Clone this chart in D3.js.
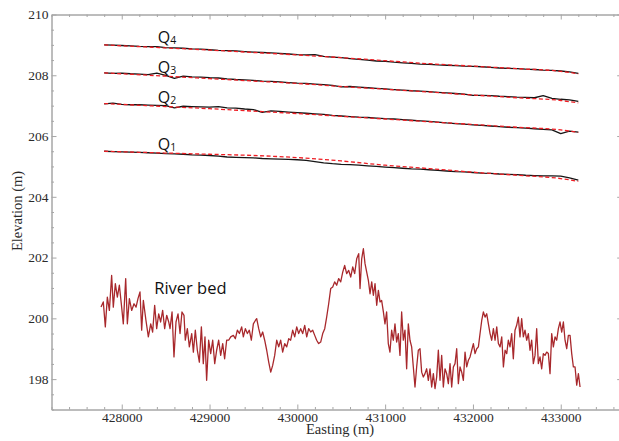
<!DOCTYPE html>
<html>
<head>
<meta charset="utf-8">
<script src="https://d3js.org/d3.v7.min.js"></script>
<style>
  body { margin: 0; background: #fff; }
  .axis path, .axis line { stroke: #a6a6a6; stroke-width: 1; }
  .axis text { fill: #2b2b2b; font-family: "Liberation Serif", "Times New Roman", "DejaVu Serif", serif; font-size: 13.5px; }
  .title { fill: #2b2b2b; font-family: "Liberation Serif", "Times New Roman", "DejaVu Serif", serif; font-size: 14.5px; }
  .note { fill: #111; font-family: "Open Sans", "Noto Sans", Lato, sans-serif; }
</style>
</head>
<body>
<div id="chart"></div>
<script>
// tick labels
var xTicks = [428000, 429000, 430000, 431000, 432000, 433000];
var yTicks = [198, 200, 202, 204, 206, 208, 210];

// terrace profiles (black = measured, red dashed = fit)
var qEast = [
  427800, 427900, 428000, 428100, 428200, 428300, 428400, 428500, 428600, 428700,
  428800, 428900, 429000, 429100, 429200, 429300, 429400, 429500, 429600, 429700,
  429800, 429900, 430000, 430100, 430200, 430300, 430400, 430500, 430600, 430700,
  430800, 430900, 431000, 431100, 431200, 431300, 431400, 431500, 431600, 431700,
  431800, 431900, 432000, 432100, 432200, 432300, 432400, 432500, 432600, 432700,
  432800, 432900, 433000, 433100, 433200];

var q4 = [
  209.00, 208.99, 208.98, 208.97, 208.95, 208.94, 208.94, 208.91, 208.90, 208.89,
  208.87, 208.86, 208.84, 208.82, 208.81, 208.80, 208.78, 208.76, 208.75, 208.74,
  208.72, 208.70, 208.68, 208.67, 208.68, 208.62, 208.60, 208.58, 208.55, 208.52,
  208.50, 208.47, 208.46, 208.43, 208.41, 208.39, 208.37, 208.36, 208.34, 208.33,
  208.32, 208.30, 208.29, 208.28, 208.26, 208.24, 208.23, 208.22, 208.20, 208.19,
  208.17, 208.16, 208.14, 208.11, 208.06];

var q3 = [
  208.08, 208.06, 208.07, 208.05, 208.04, 208.02, 208.07, 208.00, 207.90, 207.97,
  207.95, 207.94, 207.92, 207.91, 207.88, 207.86, 207.85, 207.83, 207.81, 207.80,
  207.78, 207.76, 207.74, 207.73, 207.71, 207.69, 207.67, 207.62, 207.63, 207.61,
  207.59, 207.57, 207.55, 207.53, 207.51, 207.49, 207.48, 207.46, 207.44, 207.42,
  207.40, 207.38, 207.34, 207.34, 207.33, 207.31, 207.30, 207.28, 207.27, 207.26,
  207.33, 207.24, 207.21, 207.19, 207.14];

var q2 = [
  207.06, 207.08, 207.04, 207.03, 207.03, 207.02, 207.01, 207.00, 206.93, 206.98,
  206.97, 206.96, 206.95, 206.97, 206.93, 206.92, 206.89, 206.87, 206.78, 206.83,
  206.81, 206.79, 206.77, 206.75, 206.73, 206.71, 206.68, 206.66, 206.64, 206.62,
  206.61, 206.59, 206.57, 206.56, 206.54, 206.52, 206.50, 206.48, 206.46, 206.43,
  206.41, 206.39, 206.37, 206.35, 206.33, 206.31, 206.29, 206.28, 206.26, 206.24,
  206.22, 206.20, 206.08, 206.16, 206.13];

var q1 = [
  205.50, 205.49, 205.48, 205.47, 205.46, 205.45, 205.44, 205.42, 205.41, 205.40,
  205.38, 205.37, 205.36, 205.34, 205.31, 205.30, 205.29, 205.28, 205.26, 205.25,
  205.24, 205.23, 205.22, 205.20, 205.16, 205.12, 205.09, 205.07, 205.06, 205.04,
  205.02, 205.00, 204.98, 204.96, 204.94, 204.92, 204.91, 204.89, 204.87, 204.85,
  204.83, 204.82, 204.80, 204.78, 204.77, 204.75, 204.74, 204.73, 204.71, 204.70,
  204.69, 204.69, 204.68, 204.62, 204.55];

var fitEast = [427800, 428500, 429000, 429500, 430000, 430500, 431000, 431500, 432000, 432500, 433000, 433200];
var q4Fit = [209.00, 208.90, 208.83, 208.75, 208.67, 208.58, 208.48, 208.38, 208.30, 208.22, 208.13, 208.05];
var q3Fit = [208.08, 207.97, 207.89, 207.81, 207.73, 207.63, 207.54, 207.45, 207.35, 207.26, 207.17, 207.09];
var q2Fit = [207.07, 206.97, 206.90, 206.82, 206.74, 206.65, 206.56, 206.47, 206.38, 206.29, 206.20, 206.12];
var q1Fit = [205.50, 205.44, 205.40, 205.36, 205.29, 205.18, 205.04, 204.93, 204.81, 204.71, 204.60, 204.51];

// river bed profile
var riverEast = [
  427764, 427790, 427813, 427836, 427859, 427885, 427904, 427927, 427950, 427973,
  427999, 428018, 428045, 428064, 428087, 428113, 428140, 428163, 428185, 428208,
  428227, 428246, 428276, 428303, 428330, 428352, 428375, 428398, 428421, 428443,
  428466, 428489, 428512, 428535, 428550, 428573, 428595, 428618, 428641, 428664,
  428686, 428709, 428724, 428747, 428770, 428797, 428816, 428838, 428861, 428884,
  428907, 428929, 428948, 428967, 428990, 429013, 429036, 429059, 429081, 429104,
  429127, 429150, 429172, 429195, 429218, 429241, 429271, 429294, 429317, 429340,
  429366, 429385, 429408, 429431, 429453, 429476, 429499, 429522, 429537, 429560,
  429583, 429605, 429628, 429651, 429674, 429697, 429719, 429742, 429765, 429788,
  429810, 429833, 429856, 429879, 429902, 429924, 429947, 429970, 429993, 430015,
  430038, 430061, 430084, 430107, 430129, 430152, 430175, 430198, 430220, 430243,
  430266, 430289, 430312, 430334, 430357, 430380, 430403, 430425, 430448, 430471,
  430494, 430517, 430539, 430562, 430585, 430608, 430631, 430653, 430676, 430699,
  430714, 430733, 430752, 430771, 430790, 430809, 430828, 430847, 430866, 430885,
  430904, 430923, 430942, 430960, 430980, 430998, 431017, 431036, 431055, 431074,
  431093, 431112, 431131, 431150, 431169, 431188, 431207, 431226, 431245, 431264,
  431283, 431302, 431321, 431340, 431359, 431378, 431397, 431416, 431435, 431454,
  431473, 431492, 431511, 431530, 431549, 431568, 431587, 431606, 431625, 431644,
  431663, 431682, 431701, 431720, 431739, 431758, 431777, 431796, 431815, 431834,
  431853, 431872, 431891, 431910, 431929, 431948, 431967, 431986, 432005, 432024,
  432043, 432062, 432081, 432100, 432119, 432138, 432157, 432176, 432195, 432214,
  432233, 432252, 432271, 432290, 432309, 432328, 432347, 432366, 432385, 432403,
  432422, 432441, 432460, 432479, 432498, 432517, 432536, 432555, 432574, 432593,
  432612, 432631, 432650, 432669, 432688, 432707, 432726, 432745, 432764, 432783,
  432802, 432821, 432840, 432859, 432878, 432897, 432916, 432935, 432954, 432973,
  432992, 433011, 433030, 433049, 433068, 433087, 433106, 433125, 433144, 433163,
  433182, 433201, 433220];

var riverElev = [
  200.37, 200.54, 199.72, 200.70, 200.26, 201.41, 200.37, 201.14, 200.70, 201.09,
  200.37, 199.82, 201.31, 199.82, 200.65, 200.26, 200.48, 200.37, 200.65, 200.87,
  199.61, 200.59, 199.93, 199.39, 199.82, 199.55, 200.43, 199.66, 200.15, 199.88,
  200.26, 199.66, 200.10, 199.88, 199.66, 200.21, 198.73, 199.88, 200.15, 199.50,
  200.21, 200.10, 199.28, 199.66, 199.06, 199.50, 198.89, 199.61, 198.95, 198.56,
  199.72, 198.51, 199.39, 197.96, 199.28, 198.84, 199.28, 198.51, 198.95, 199.28,
  198.78, 199.17, 198.67, 199.28, 199.28, 199.39, 199.44, 199.33, 199.61, 199.50,
  199.72, 199.39, 199.66, 199.50, 199.61, 199.28, 199.82, 199.93, 199.99, 199.66,
  199.39, 199.55, 199.28, 198.95, 198.56, 198.23, 198.45, 198.78, 199.28, 199.06,
  199.28, 198.89, 199.17, 199.06, 199.33, 199.28, 199.61, 199.39, 199.72, 199.50,
  199.66, 199.50, 199.77, 199.39, 199.66, 199.55, 199.61, 199.44, 199.28, 199.17,
  199.22, 199.50, 199.66, 200.04, 200.48, 200.98, 201.03, 201.20, 201.09, 201.31,
  201.20, 201.52, 201.74, 201.47, 201.58, 201.36, 201.69, 201.47, 201.96, 202.13,
  200.98, 201.96, 202.29, 201.80, 201.52, 201.25, 200.81, 201.20, 200.76, 201.14,
  200.43, 200.92, 200.54, 200.59, 200.21, 199.82, 200.21, 199.17, 198.89, 199.61,
  199.28, 199.82, 199.22, 199.50, 198.78, 200.21, 199.28, 199.61, 198.34, 199.82,
  199.28, 199.06, 198.40, 197.74, 198.40, 198.95, 199.00, 198.23, 198.07, 198.18,
  198.34, 197.96, 198.34, 197.74, 198.18, 197.69, 198.07, 198.95, 197.96, 198.78,
  197.74, 198.34, 198.18, 197.85, 198.51, 197.74, 198.40, 198.51, 199.00, 197.85,
  198.40, 198.23, 197.96, 198.89, 198.40, 198.62, 198.73, 198.95, 199.17, 198.84,
  199.00, 199.06, 199.50, 199.93, 200.21, 200.04, 200.15, 199.82, 199.50, 199.28,
  199.66, 199.28, 199.72, 199.17, 199.06, 199.39, 198.40, 198.95, 198.84, 199.28,
  199.06, 199.50, 198.67, 199.61, 199.77, 200.04, 199.39, 199.99, 199.39, 199.61,
  199.28, 199.50, 198.95, 199.28, 198.51, 198.78, 199.66, 198.51, 198.73, 198.34,
  198.84, 198.78, 198.89, 198.84, 198.18, 199.50, 199.06, 199.39, 199.28, 199.66,
  199.88, 199.55, 199.88, 199.28, 199.00, 199.44, 199.44, 198.84, 198.40, 198.40,
  197.80, 198.18, 197.74];

// labels on the chart
var qNames = ["4", "3", "2", "1"];
var qLabelEast = [428410, 428410, 428410, 428410];
var qLabelElev = [209.07, 208.08, 207.08, 205.54];

var svgWidth = 619;
var svgHeight = 441;

var margin = {
  top: 14.5,
  right: -3.2,
  bottom: 31.5,
  left: 51.5
};

var chartWidth = svgWidth - margin.left - margin.right;
var chartHeight = svgHeight - margin.top - margin.bottom;

var svg = d3.select("#chart").append("svg")
  .attr("width", svgWidth)
  .attr("height", svgHeight)
  .style("display", "block");

svg.append("rect")
  .attr("width", svgWidth)
  .attr("height", svgHeight)
  .attr("fill", "#fff");

var chartGroup = svg.append("g")
  .attr("transform", `translate(${margin.left}, ${margin.top})`);

var xScale = d3.scaleLinear()
  .domain([427200, 433700])
  .range([0, chartWidth]);

var yScale = d3.scaleLinear()
  .domain([197, 210])
  .range([chartHeight, 0]);

// minor tick positions
var xMinor = d3.range(427200, 433700, 200).filter(d => d % 1000 !== 0);
var yMinor = d3.range(197, 210, 0.5).filter(d => d % 2 !== 0);

// frame with inward ticks on every side
chartGroup.append("g")
  .attr("class", "axis")
  .attr("transform", `translate(0, ${chartHeight})`)
  .call(d3.axisBottom(xScale).tickValues(xTicks).tickSize(-5).tickSizeOuter(0)
    .tickPadding(3).tickFormat(d3.format("d")));

chartGroup.append("g")
  .attr("class", "axis")
  .attr("transform", `translate(0, ${chartHeight})`)
  .call(d3.axisBottom(xScale).tickValues(xMinor).tickSize(-2.5).tickSizeOuter(0).tickFormat(""));

chartGroup.append("g")
  .attr("class", "axis")
  .call(d3.axisTop(xScale).tickValues(xTicks).tickSize(-5).tickSizeOuter(0).tickFormat(""));

chartGroup.append("g")
  .attr("class", "axis")
  .call(d3.axisTop(xScale).tickValues(xMinor).tickSize(-2.5).tickSizeOuter(0).tickFormat(""));

chartGroup.append("g")
  .attr("class", "axis")
  .call(d3.axisLeft(yScale).tickValues(yTicks).tickSize(-5).tickSizeOuter(0).tickPadding(3));

chartGroup.append("g")
  .attr("class", "axis")
  .call(d3.axisLeft(yScale).tickValues(yMinor).tickSize(-2.5).tickSizeOuter(0).tickFormat(""));

chartGroup.append("g")
  .attr("class", "axis")
  .attr("transform", `translate(${chartWidth}, 0)`)
  .call(d3.axisRight(yScale).tickValues(yTicks).tickSize(-5).tickSizeOuter(0).tickFormat(""));

// d3 axis sets its own font on the group, so drop it to let the css apply
chartGroup.selectAll(".axis").attr("font-family", null).attr("font-size", null);

var line = d3.line()
  .x(d => xScale(d[0]))
  .y(d => yScale(d[1]));

var fitLine = d3.line()
  .curve(d3.curveMonotoneX)
  .x(d => xScale(d[0]))
  .y(d => yScale(d[1]));

// river bed
chartGroup.append("path")
  .datum(riverEast.map((e, i) => [e, riverElev[i]]))
  .attr("fill", "none")
  .attr("stroke", "#a8282c")
  .attr("stroke-width", 1.3)
  .attr("stroke-linejoin", "round")
  .attr("d", line);

// measured terrace surfaces
[q4, q3, q2, q1].forEach(function(series) {
  chartGroup.append("path")
    .datum(qEast.map((e, i) => [e, series[i]]))
    .attr("fill", "none")
    .attr("stroke", "#151515")
    .attr("stroke-width", 1.3)
    .attr("stroke-linejoin", "round")
    .attr("d", line);
});

// fitted surfaces
[q4Fit, q3Fit, q2Fit, q1Fit].forEach(function(series) {
  chartGroup.append("path")
    .datum(fitEast.map((e, i) => [e, series[i]]))
    .attr("fill", "none")
    .attr("stroke", "#ee1d23")
    .attr("stroke-width", 1.3)
    .attr("stroke-dasharray", "4,2.5")
    .attr("d", fitLine);
});

// Q labels
qNames.forEach(function(n, i) {
  var t = chartGroup.append("text")
    .attr("class", "note")
    .attr("x", xScale(qLabelEast[i]))
    .attr("y", yScale(qLabelElev[i]))
    .style("font-size", "16px");
  t.append("tspan").text("Q");
  t.append("tspan")
    .style("font-size", "10.5px")
    .attr("dy", 1)
    .text(n);
});

chartGroup.append("text")
  .attr("class", "note")
  .attr("x", xScale(428370))
  .attr("y", yScale(200.80))
  .style("font-size", "16.5px")
  .text("River bed");

// axis titles
svg.append("text")
  .attr("class", "title")
  .attr("x", 340)
  .attr("y", 434)
  .attr("text-anchor", "middle")
  .text("Easting (m)");

svg.append("text")
  .attr("class", "title")
  .attr("transform", "rotate(-90)")
  .attr("x", -211)
  .attr("y", 22)
  .attr("text-anchor", "middle")
  .text("Elevation (m)");
</script>
</body>
</html>
